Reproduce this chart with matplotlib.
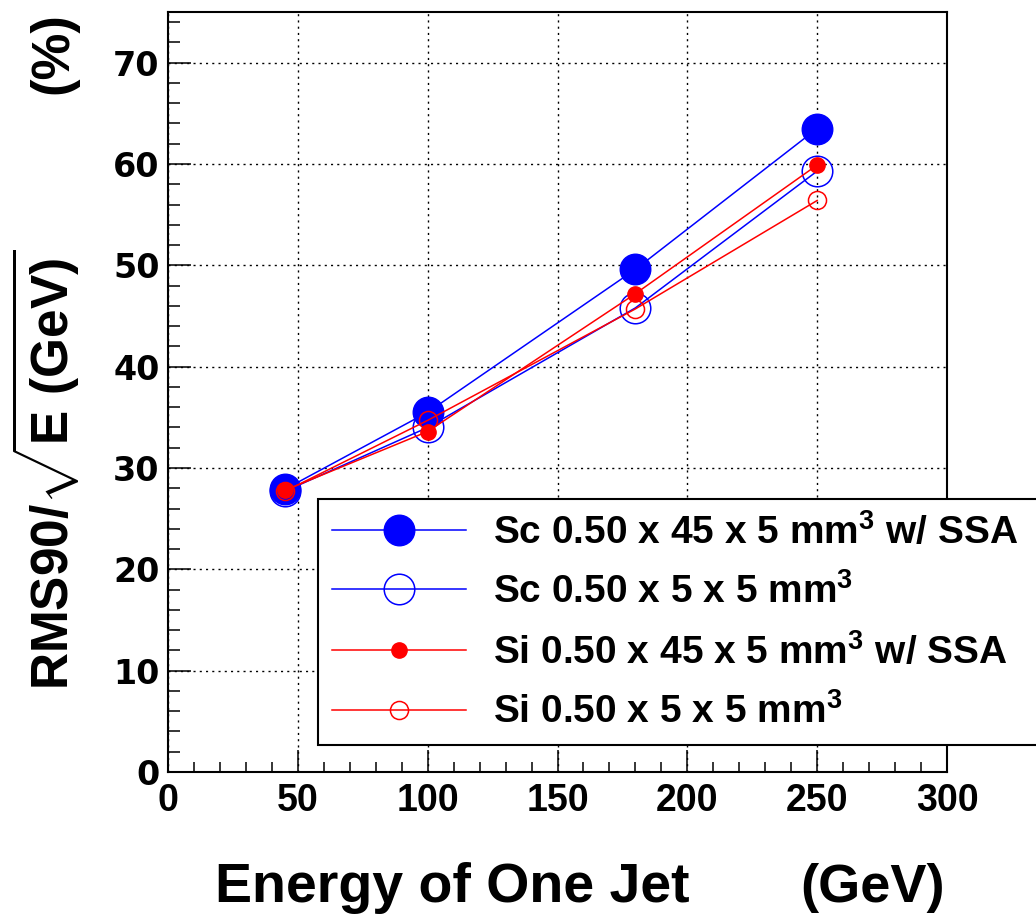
import matplotlib
matplotlib.use('Agg')
import matplotlib.pyplot as plt
from matplotlib.ticker import MultipleLocator

plt.rcParams['font.family'] = 'Liberation Sans'
plt.rcParams['font.weight'] = 'bold'
plt.rcParams['mathtext.fontset'] = 'custom'
plt.rcParams['mathtext.rm'] = 'Liberation Sans:bold'
plt.rcParams['mathtext.bf'] = 'Liberation Sans:bold'
plt.rcParams['mathtext.it'] = 'Liberation Sans:bold'

# Jet energies (GeV) and RMS90/sqrt(E) (%).
energy = [45, 100, 180, 250]
sc_ssa = [27.9, 35.5, 49.6, 63.5]
sc_5x5 = [27.7, 34.0, 45.8, 59.3]
si_ssa = [27.8, 33.6, 47.2, 59.9]
si_5x5 = [27.7, 34.7, 45.7, 56.4]

labels = [r'Sc 0.50 x 45 x 5 mm$^{3}$ w/ SSA',
          r'Sc 0.50 x 5 x 5 mm$^{3}$',
          r'Si 0.50 x 45 x 5 mm$^{3}$ w/ SSA',
          r'Si 0.50 x 5 x 5 mm$^{3}$']

W, H = 1036, 914
fig = plt.figure(figsize=(W / 100, H / 100), dpi=100)
ax = fig.add_axes([168 / W, 1 - 772 / H, (947 - 168) / W, (772 - 12) / H])

ax.plot(energy, sc_ssa, '-o', color='blue', lw=1.1, ms=22,
        mfc='blue', mec='blue', label=labels[0])
ax.plot(energy, sc_5x5, '-o', color='blue', lw=1.1, ms=22,
        mfc='none', mec='blue', mew=1.1, label=labels[1])
ax.plot(energy, si_ssa, '-o', color='red', lw=1.1, ms=11,
        mfc='red', mec='red', label=labels[2])
ax.plot(energy, si_5x5, '-o', color='red', lw=1.1, ms=13,
        mfc='none', mec='red', mew=1.1, label=labels[3])

ax.set_xlim(0, 300)
ax.set_ylim(0, 75)
ax.xaxis.set_major_locator(MultipleLocator(50))
ax.xaxis.set_minor_locator(MultipleLocator(10))
ax.yaxis.set_major_locator(MultipleLocator(10))
ax.yaxis.set_minor_locator(MultipleLocator(2))
ax.grid(True, which='major', color='black', lw=1.0, linestyle=(0, (1.5, 3)))
ax.set_axisbelow(True)

for s in ax.spines.values():
    s.set_linewidth(1.5)

ax.tick_params(axis='y', which='major', direction='in', length=16.5, width=1.1, pad=6)
ax.tick_params(axis='y', which='minor', direction='in', length=8.5, width=1.1)
ax.tick_params(axis='x', which='major', direction='in', length=16, width=1.1, pad=8)
ax.tick_params(axis='x', which='minor', direction='in', length=7, width=1.1)

for t in ax.get_yticklabels():
    t.set_fontfamily('DejaVu Sans')
    t.set_fontweight('bold')
    t.set_fontsize(24)
for t in ax.get_xticklabels():
    t.set_fontsize(27)
    t.set_fontweight('bold')

# Legend box runs past the right edge of the canvas, as in the original.
leg = fig.legend(loc='upper left', mode='expand',
                 bbox_to_anchor=(318 / W, 1 - 499 / H, (1070 - 318) / W, 0),
                 borderaxespad=0, fontsize=28, handlelength=3.45,
                 handletextpad=0.7, borderpad=0.35, labelspacing=0.56,
                 fancybox=False, framealpha=1, edgecolor='black')
leg.get_frame().set_linewidth(1.5)

fig.text(10 / W, 1 - 690 / H, r'RMS90/$\sqrt{\mathrm{E\ (GeV)}}$',
         rotation=90, ha='left', va='bottom', fontsize=37, fontweight='bold')
fig.text(28 / W, 1 - 12 / H, '(%)', rotation=90, ha='left', va='top',
         fontsize=38, fontweight='bold')

fig.text(215 / W, 1 - 902 / H, 'Energy of One Jet', ha='left', va='baseline',
         fontsize=40, fontweight='bold')
fig.text(945 / W, 1 - 902 / H, '(GeV)', ha='right', va='baseline',
         fontsize=39, fontweight='bold')

fig.savefig('out.png', dpi=100)
